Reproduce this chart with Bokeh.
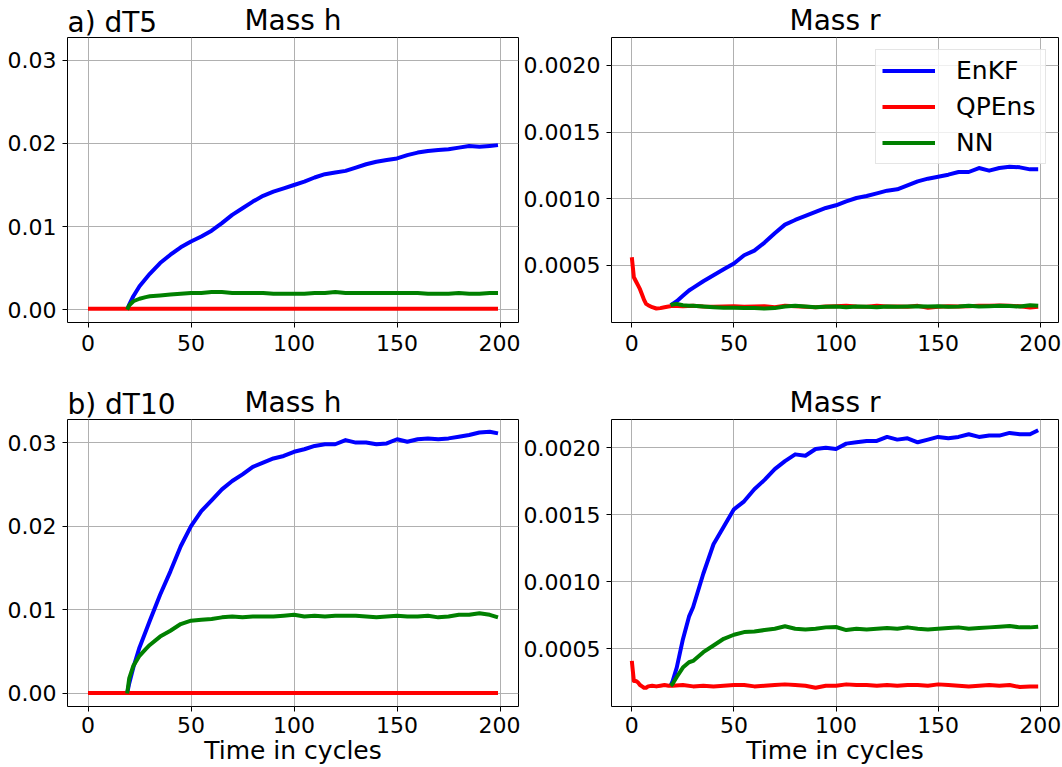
from bokeh.plotting import figure
from bokeh.layouts import column, row
from bokeh.models import Range1d, FixedTicker, PrintfTickFormatter, Title, Legend, LegendItem
from bokeh.embed import file_html
from bokeh.resources import INLINE

# ---------------- data ----------------
cycles = [19, 20, 22, 25, 28, 30, 35, 40, 45, 50, 55, 60, 65, 70, 75, 80, 85, 90, 95, 100,
          105, 110, 115, 120, 125, 130, 135, 140, 145, 150, 155, 160, 165, 170, 175, 180,
          185, 190, 195, 199]
qp_cycles = [0, 1, 2, 3, 4, 5, 6, 7, 8, 10, 12, 14, 16, 18, 20, 25, 30, 35, 40, 45, 50, 55,
             60, 65, 70, 75, 80, 85, 90, 95, 100, 105, 110, 115, 120, 125, 130, 135, 140,
             145, 150, 155, 160, 165, 170, 175, 180, 185, 190, 195, 199]
flat_cycles = [0, 199]

# a) dT5, Mass h
enkf_h_dt5 = [0, 0.0006, 0.0016, 0.0028, 0.0037, 0.0043, 0.0056, 0.0066, 0.0075, 0.0082,
              0.0088, 0.0095, 0.0104, 0.0114, 0.0122, 0.0130, 0.0137, 0.0142, 0.0146, 0.0150,
              0.0154, 0.0159, 0.0163, 0.0165, 0.0167, 0.0171, 0.0175, 0.0178, 0.0180, 0.0182,
              0.0186, 0.0189, 0.0191, 0.0192, 0.0193, 0.0195, 0.0197, 0.0196, 0.0197, 0.0198]
nn_h_dt5 = [0, 0.0005, 0.0010, 0.0013, 0.0015, 0.0016, 0.0017, 0.0018, 0.0019, 0.0020,
            0.0020, 0.0021, 0.0021, 0.0020, 0.0020, 0.0020, 0.0020, 0.0019, 0.0019, 0.0019,
            0.0019, 0.0020, 0.0020, 0.0021, 0.0020, 0.0020, 0.0020, 0.0020, 0.0020, 0.0020,
            0.0020, 0.0020, 0.0019, 0.0019, 0.0019, 0.0020, 0.0019, 0.0019, 0.0020, 0.0020]
qpens_h_dt5 = [0.0001, 0.0001]

# a) dT5, Mass r
enkf_r_dt5 = [0.00020, 0.00021, 0.00023, 0.00027, 0.00031, 0.00033, 0.00038, 0.000425, 0.00047,
              0.000513, 0.000575, 0.00061, 0.00067, 0.00074, 0.000805, 0.00084, 0.00087,
              0.00090, 0.00093, 0.00095, 0.00098, 0.001005, 0.00102, 0.00104, 0.00106,
              0.00107, 0.00110, 0.00113, 0.00115, 0.001165, 0.00118, 0.00120, 0.00120,
              0.00123, 0.00121, 0.00123, 0.00124, 0.001235, 0.00122, 0.00122]
nn_r_dt5 = [0.00020, 0.000205, 0.00021, 0.00020, 0.000195, 0.000195, 0.00019, 0.000185, 0.00018,
            0.00018, 0.000178, 0.000178, 0.000175, 0.000178, 0.00019, 0.000195, 0.00019,
            0.000185, 0.000188, 0.00019, 0.000185, 0.00019, 0.000188, 0.000185, 0.00019,
            0.000188, 0.00019, 0.000192, 0.00019, 0.000192, 0.000188, 0.00019, 0.000195,
            0.00019, 0.000192, 0.000195, 0.000193, 0.00019, 0.00020, 0.000195]
qpens_r_dt5 = [0.00056, 0.00041, 0.00038, 0.00035, 0.00032, 0.00028, 0.00024, 0.00021, 0.00020,
               0.000185, 0.000175, 0.000178, 0.000185, 0.00019, 0.000195, 0.000192, 0.000195,
               0.00019, 0.000188, 0.00019, 0.000192, 0.000188, 0.00019, 0.000192, 0.000185,
               0.000195, 0.000192, 0.000188, 0.000185, 0.00019, 0.000192, 0.000195, 0.00019,
               0.000188, 0.000195, 0.00019, 0.00019, 0.000188, 0.000195, 0.00018, 0.000188,
               0.000192, 0.00019, 0.000192, 0.000195, 0.000195, 0.000198, 0.000195, 0.000192,
               0.000182, 0.000188]

# b) dT10, Mass h
enkf_h_dt10 = [0, 0.0012, 0.0031, 0.0055, 0.0074, 0.0087, 0.0118, 0.0146, 0.0176, 0.0200,
               0.0218, 0.0231, 0.0244, 0.0254, 0.0262, 0.0271, 0.0276, 0.0281, 0.0284, 0.0289,
               0.0292, 0.0296, 0.0298, 0.0298, 0.0303, 0.0300, 0.0300, 0.0298, 0.0299, 0.0304,
               0.0301, 0.0304, 0.0305, 0.0304, 0.0305, 0.0307, 0.0309, 0.0312, 0.0313, 0.0311]
nn_h_dt10 = [0, 0.0018, 0.0033, 0.0045, 0.0053, 0.0058, 0.0068, 0.0075, 0.0083, 0.0087,
             0.0088, 0.0089, 0.0091, 0.0092, 0.0091, 0.0092, 0.0092, 0.0092, 0.0093, 0.0094,
             0.0092, 0.0093, 0.0092, 0.0093, 0.0093, 0.0093, 0.0092, 0.0091, 0.0092, 0.0093,
             0.0092, 0.0092, 0.0093, 0.0091, 0.0092, 0.0094, 0.0094, 0.0096, 0.0094, 0.0091]
qpens_h_dt10 = [0.00005, 0.00005]

# b) dT10, Mass r
enkf_r_dt10 = [0.000225, 0.00026, 0.00036, 0.00057, 0.00074, 0.00081, 0.00106, 0.00128,
               0.00141, 0.00154, 0.00160, 0.00169, 0.00176, 0.00184, 0.00190, 0.00195,
               0.00194, 0.00199, 0.00200, 0.00199, 0.00203, 0.00204, 0.00205, 0.00205,
               0.00208, 0.00206, 0.00207, 0.00204, 0.00206, 0.00208, 0.00207, 0.00208,
               0.00210, 0.00208, 0.00209, 0.00209, 0.00211, 0.00210, 0.00210, 0.00213]
nn_r_dt10 = [0.000225, 0.00024, 0.00029, 0.00036, 0.00040, 0.00041, 0.000475, 0.000525,
             0.000575, 0.000605, 0.000625, 0.00063, 0.00064, 0.00065, 0.000668, 0.00065,
             0.000645, 0.00065, 0.00066, 0.000663, 0.00064, 0.00065, 0.000645, 0.00065,
             0.000655, 0.00065, 0.00066, 0.00065, 0.000645, 0.00065, 0.000655, 0.00066,
             0.00065, 0.000655, 0.00066, 0.000665, 0.00067, 0.00066, 0.00066, 0.000665]
qpens_r_dt10 = [0.00041, 0.00026, 0.00026, 0.00025, 0.00023, 0.00022, 0.00021, 0.00021, 0.00022,
                0.000225, 0.00022, 0.000225, 0.00023, 0.000225, 0.000225, 0.00023, 0.00022,
                0.000225, 0.00022, 0.000225, 0.00023, 0.00023, 0.00022, 0.000225, 0.00023,
                0.000235, 0.00023, 0.000225, 0.00021, 0.000225, 0.000225, 0.000235, 0.00023,
                0.00023, 0.000225, 0.00023, 0.000225, 0.00023, 0.00023, 0.000225, 0.000235,
                0.00023, 0.000225, 0.00022, 0.000225, 0.00023, 0.000225, 0.00023, 0.000215,
                0.00022, 0.00022]

x_ticks = [0, 50, 100, 150, 200]
h_ticks = [0.0, 0.01, 0.02, 0.03]
r_ticks = [0.0005, 0.0010, 0.0015, 0.0020]
series_names = ["EnKF", "QPEns", "NN"]
series_colors = ["#0000ff", "#ff0000", "#008000"]

FONT = "DejaVu Sans"
X_RANGE = (-9.95, 208.95)
H_RANGE = (-0.00156, 0.03276)
R_RANGE = (0.00007, 0.00221)


def make_panel(w, h, bl, br, bt, bb, yr, yticks, yfmt, title, tag, title_standoff, xlabel,
               tick_standoff, data):
    p = figure(width=w, height=h, x_range=Range1d(*X_RANGE), y_range=Range1d(*yr),
               output_backend="svg", toolbar_location=None,
               min_border_left=bl, min_border_right=br, min_border_top=bt, min_border_bottom=bb)
    if tag:
        p.add_layout(Title(text=tag, align="left", text_font=FONT, text_font_size="28px",
                           text_font_style="normal", text_color="black", standoff=-3),
                     "above")
    p.title.text = title
    p.title.align = "center"
    p.title.text_font = FONT
    p.title.text_font_size = "28px"
    p.title.text_font_style = "normal"
    p.title.text_color = "black"
    p.title.standoff = title_standoff
    p.background_fill_color = "white"
    p.border_fill_color = "white"
    p.outline_line_color = "black"
    p.outline_line_width = 1
    p.outline_line_alpha = 1

    for ax in p.axis:
        ax.axis_line_color = None
        ax.major_tick_line_color = "black"
        ax.major_tick_line_width = 1
        ax.major_tick_out = 5
        ax.major_tick_in = 0
        ax.minor_tick_line_color = None
        ax.major_label_text_font = FONT
        ax.major_label_text_font_size = "22px"
        ax.major_label_text_color = "black"
    p.xaxis.ticker = FixedTicker(ticks=x_ticks)
    p.yaxis.ticker = FixedTicker(ticks=yticks)
    p.yaxis.formatter = PrintfTickFormatter(format=yfmt)
    p.xaxis.major_label_standoff = tick_standoff
    p.yaxis.major_label_standoff = 6
    if xlabel:
        p.xaxis.axis_label = xlabel
        p.xaxis.axis_label_text_font = FONT
        p.xaxis.axis_label_text_font_size = "25px"
        p.xaxis.axis_label_text_font_style = "normal"
        p.xaxis.axis_label_text_color = "black"
        p.xaxis.axis_label_standoff = 0

    p.grid.grid_line_color = "#b0b0b0"
    p.grid.grid_line_width = 1

    renderers = []
    for (xs, ys), color in zip(data, series_colors):
        r = p.line(xs, ys, line_color=color, line_width=4, line_join="round")
        renderers.append(r)
    return p, renderers


p1, _ = make_panel(520, 382, 67, 2, 37, 60, H_RANGE, h_ticks, "%.2f", "Mass h", "a) dT5", -62,
                   None, 7,
                   [(cycles, enkf_h_dt5), (flat_cycles, qpens_h_dt5), (cycles, nn_h_dt5)])
p2, rr = make_panel(542, 382, 88, 4, 37, 60, R_RANGE, r_ticks, "%.4f", "Mass r", None, 2, None,
                    7,
                    [(cycles, enkf_r_dt5), (qp_cycles, qpens_r_dt5), (cycles, nn_r_dt5)])
p3, _ = make_panel(520, 385, 67, 2, 37, 61, H_RANGE, h_ticks, "%.2f", "Mass h", "b) dT10", -62,
                   "Time in cycles", 5,
                   [(cycles, enkf_h_dt10), (flat_cycles, qpens_h_dt10), (cycles, nn_h_dt10)])
p4, _ = make_panel(542, 385, 88, 4, 37, 61, R_RANGE, r_ticks, "%.4f", "Mass r", None, 2,
                   "Time in cycles", 5,
                   [(cycles, enkf_r_dt10), (qp_cycles, qpens_r_dt10), (cycles, nn_r_dt10)])

legend = Legend(items=[LegendItem(label=n, renderers=[r]) for n, r in zip(series_names, rr)],
                location="top_right", margin=12, padding=6, spacing=7,
                glyph_width=53, glyph_height=29, label_height=29, label_width=83,
                label_standoff=21,
                label_text_font=FONT, label_text_font_size="25px", label_text_color="black",
                border_line_color="#cccccc", border_line_width=1,
                background_fill_color="white", background_fill_alpha=0.8)
p2.add_layout(legend)

layout = column(row(p1, p2), row(p3, p4))
open("out.html", "w").write(file_html(layout, INLINE))
